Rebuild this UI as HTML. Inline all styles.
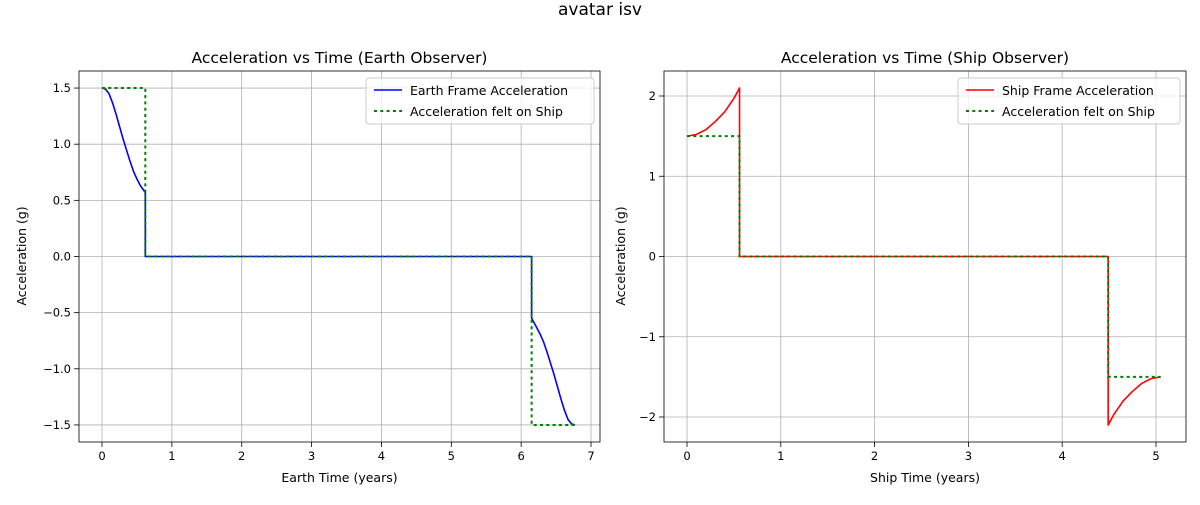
<!DOCTYPE html>
<html><head><meta charset="utf-8"><style>
body{margin:0;background:#fff;font-family:"Liberation Sans","DejaVu Sans",sans-serif}
svg text{font-family:"DejaVu Sans","Liberation Sans",sans-serif}
</style></head><body>
<svg id="s" width="1200" height="500" xmlns="http://www.w3.org/2000/svg">
<text x="600" y="15" text-anchor="middle" font-size="17">avatar isv</text>
</svg>
<script>
// Left chart data
const earthT = [0,0.05,0.1,0.15,0.2,0.25,0.3,0.35,0.4,0.45,0.5,0.55,0.62,0.62,6.15,6.15,6.22,6.27,6.32,6.37,6.42,6.47,6.52,6.57,6.62,6.67,6.72,6.77];
const earthA = [1.5,1.49,1.45,1.37,1.27,1.16,1.05,0.95,0.85,0.76,0.69,0.63,0.57,0,0,-0.55,-0.63,-0.69,-0.76,-0.85,-0.95,-1.05,-1.16,-1.27,-1.37,-1.45,-1.49,-1.5];
const feltLT = [0,0.62,0.62,6.15,6.15,6.77];
const feltLA = [1.5,1.5,0,0,-1.5,-1.5];
const leftXTicks = [0,1,2,3,4,5,6,7];
const leftYTicks = [-1.5,-1.0,-0.5,0.0,0.5,1.0,1.5];
// Right chart data
const shipT = [0,0.1,0.2,0.3,0.4,0.5,0.56,0.56,4.49,4.49,4.55,4.65,4.75,4.85,4.95,5.05];
const shipA = [1.5,1.52,1.58,1.68,1.8,1.97,2.1,0,0,-2.1,-1.97,-1.8,-1.68,-1.58,-1.52,-1.5];
const feltRT = [0,0.56,0.56,4.49,4.49,5.05];
const feltRA = [1.5,1.5,0,0,-1.5,-1.5];
const rightXTicks = [0,1,2,3,4,5];
const rightYTicks = [-2,-1,0,1,2];

const NS="http://www.w3.org/2000/svg", svg=document.getElementById('s');
function el(tag,attrs,parent){const e=document.createElementNS(NS,tag);for(const k in attrs)e.setAttribute(k,attrs[k]);(parent||svg).appendChild(e);return e;}

function chart(cfg){
  const g=el('g',{});
  
  
  const X=v=>cfg.x0px+(v-cfg.xv0)*cfg.xs, Y=v=>cfg.y0px-v*cfg.ys;
  const L=cfg.L,R=cfg.R,T=71,B=442;
  cfg.xt.forEach(v=>{
    const l=el('line',{x1:X(v),x2:X(v),y1:T,y2:B,stroke:'#b0b0b0','stroke-width':0.8},g);
    
    el('line',{x1:X(v),x2:X(v),y1:B,y2:B+5,stroke:'#000','stroke-width':0.8},g);
    const t=el('text',{x:X(v),y:B+18,'text-anchor':'middle','font-size':11.5},g);t.textContent=v;
    
  });
  cfg.yt.forEach(v=>{
    const l=el('line',{x1:L,x2:R,y1:Y(v),y2:Y(v),stroke:'#b0b0b0','stroke-width':0.8},g);
    
    el('line',{x1:L-5,x2:L,y1:Y(v),y2:Y(v),stroke:'#000','stroke-width':0.8},g);
    const t=el('text',{x:L-8,y:Y(v)+4,'text-anchor':'end','font-size':11.5},g);
    t.textContent=(v<0?'\u2212':'')+(cfg.dec?Math.abs(v).toFixed(1):Math.abs(v));
    
  });
  const pts=(xs,ys)=>xs.map((x,i)=>X(x)+','+Y(ys[i])).join(' ');
  const p1=el('polyline',{points:pts(cfg.mt,cfg.ma),fill:'none',stroke:cfg.col,'stroke-width':1.6,'stroke-linejoin':'round'},g);
  
  const p2=el('polyline',{points:pts(cfg.ft,cfg.fa),fill:'none',stroke:'#008000','stroke-width':2,'stroke-dasharray':'3,3.3'},g);
  
  el('rect',{x:L,y:T,width:R-L,height:B-T,fill:'none',stroke:'#000','stroke-width':0.8},g);
  const tt=el('text',{x:(L+R)/2,y:63,'text-anchor':'middle','font-size':15.5},g);tt.textContent=cfg.title;
  
  const xl=el('text',{x:(L+R)/2,y:482,'text-anchor':'middle','font-size':12.5},g);xl.textContent=cfg.xlab;
  
  const yl=el('text',{x:0,y:0,'text-anchor':'middle','font-size':12.5,transform:`translate(${cfg.ylx},256) rotate(-90)`},g);yl.textContent='Acceleration (g)';
  
  const lg=el('g',{},g);
  const lx=cfg.lx,lw=R-6-lx;
  el('rect',{x:lx,y:78,width:lw,height:46,rx:3,fill:'#fff','fill-opacity':0.8,stroke:'#ccc'},lg);
  el('line',{x1:lx+8,x2:lx+36,y1:90,y2:90,stroke:cfg.col,'stroke-width':1.6},lg);
  el('line',{x1:lx+8,x2:lx+36,y1:111,y2:111,stroke:'#008000','stroke-width':2,'stroke-dasharray':'3,3.3'},lg);
  let t1=el('text',{x:lx+44,y:95,'font-size':12.5},lg);t1.textContent=cfg.mlab;
  
  let t2=el('text',{x:lx+44,y:116,'font-size':12.5},lg);t2.textContent='Acceleration felt on Ship';
  
}
chart({name:'earth-chart',L:79,R:600,x0px:102,xv0:0,xs:69.86,y0px:256.5,ys:112.3,xt:leftXTicks,yt:leftYTicks,dec:true,
  mt:earthT,ma:earthA,ft:feltLT,fa:feltLA,col:'#0000ff',mname:'earth-acceleration-line',title:'Acceleration vs Time (Earth Observer)',
  xlab:'Earth Time (years)',ylx:26,lx:366,mlab:'Earth Frame Acceleration'});
chart({name:'ship-chart',L:664,R:1186,x0px:687,xv0:0,xs:93.8,y0px:256.5,ys:80.25,xt:rightXTicks,yt:rightYTicks,dec:false,
  mt:shipT,ma:shipA,ft:feltRT,fa:feltRA,col:'#ff0000',mname:'ship-acceleration-line',title:'Acceleration vs Time (Ship Observer)',
  xlab:'Ship Time (years)',ylx:625,lx:958,mlab:'Ship Frame Acceleration'});
</script>
</body></html>
